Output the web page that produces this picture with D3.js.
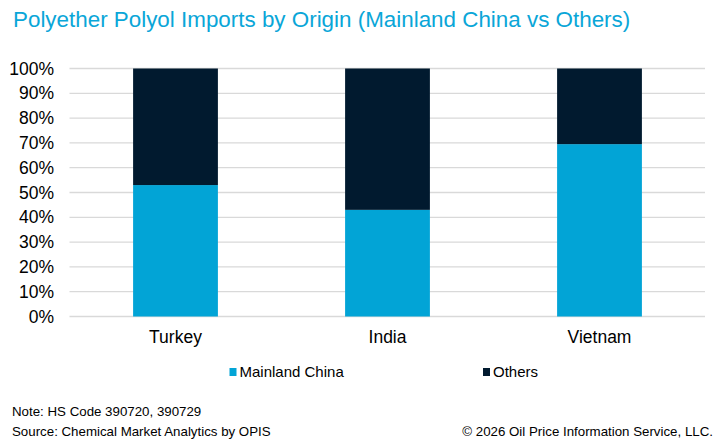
<!DOCTYPE html>
<html>
<head>
<meta charset="utf-8">
<title>Polyether Polyol Imports by Origin</title>
<script src="https://cdn.jsdelivr.net/npm/d3@7"></script>
<style>
  body { margin: 0; background: #fff; }
  svg text { font-family: "Liberation Sans", Arial, sans-serif; }
</style>
</head>
<body>
<div id="chart"></div>
<script>
var countries = ['Turkey', 'India', 'Vietnam'];
var mainlandChina = [53, 43, 69.5];
var others = [47, 57, 30.5];
var seriesNames = ['Mainland China', 'Others'];
var seriesColors = ['#02a4d6', '#011a2f'];
var yTicks = [0, 10, 20, 30, 40, 50, 60, 70, 80, 90, 100];

var W = 722, H = 448;
var svg = d3.select('#chart').append('svg')
  .attr('width', W).attr('height', H);

svg.append('text')
  .attr('x', 13).attr('y', 27)
  .attr('font-size', 22.4)
  .attr('fill', '#0aa6d8')
  .text('Polyether Polyol Imports by Origin (Mainland China vs Others)');

var x = d3.scaleBand().domain(countries).range([69.5, 705.5])
  .paddingInner(0.6).paddingOuter(0.3);
var y = d3.scaleLinear().domain([0, 100]).range([316.5, 68.5]);

// gridlines
svg.append('g').selectAll('line')
  .data(yTicks)
  .enter().append('line')
  .attr('x1', 69.5).attr('x2', 705)
  .attr('y1', function(d){ return y(d); })
  .attr('y2', function(d){ return y(d); })
  .attr('stroke', '#d9d9d9').attr('stroke-width', 1.3);

// y axis labels
var yAxis = d3.axisLeft(y).tickValues(yTicks)
  .tickFormat(function(d){ return d + '%'; })
  .tickSize(0).tickPadding(0);
var ya = svg.append('g').attr('transform', 'translate(54,0)').call(yAxis);
ya.select('.domain').remove();
ya.selectAll('text').attr('font-size', 17.5).attr('fill', '#000')
  .attr('font-family', '"Liberation Sans", Arial, sans-serif');

// stacked bars
var rows = countries.map(function(c, i){
  return { country: c, 'Mainland China': mainlandChina[i], 'Others': others[i] };
});
var stack = d3.stack().keys(seriesNames)(rows);

svg.append('g').selectAll('g')
  .data(stack)
  .enter().append('g')
  .attr('fill', function(d, i){ return seriesColors[i]; })
  .selectAll('rect')
  .data(function(d){ return d; })
  .enter().append('rect')
  .attr('x', function(d){ return x(d.data.country); })
  .attr('width', x.bandwidth())
  .attr('y', function(d){ return y(d[1]); })
  .attr('height', function(d){ return y(d[0]) - y(d[1]); });

// x axis labels
var xAxis = d3.axisBottom(x).tickSize(0).tickPadding(0);
var xa = svg.append('g').attr('transform', 'translate(0,331)').call(xAxis);
xa.select('.domain').remove();
xa.selectAll('text').attr('font-size', 17.5).attr('fill', '#000')
  .attr('font-family', '"Liberation Sans", Arial, sans-serif');

// legend
var legendX = [229.5, 483];
var legend = svg.append('g').selectAll('g')
  .data(seriesNames)
  .enter().append('g')
  .attr('transform', function(d, i){ return 'translate(' + legendX[i] + ',0)'; });
legend.append('rect')
  .attr('x', 0).attr('y', 368).attr('width', 7).attr('height', 8)
  .attr('fill', function(d, i){ return seriesColors[i]; });
legend.append('text')
  .attr('x', 10).attr('y', 377)
  .attr('font-size', 15).attr('fill', '#000')
  .text(function(d){ return d; });

// footer
svg.append('text').attr('x', 12).attr('y', 416)
  .attr('font-size', 13.3).attr('fill', '#000')
  .text('Note: HS Code 390720, 390729');
svg.append('text').attr('x', 12).attr('y', 436)
  .attr('font-size', 13.3).attr('fill', '#000')
  .text('Source: Chemical Market Analytics by OPIS');
svg.append('text').attr('x', 713).attr('y', 436)
  .attr('font-size', 13.3).attr('fill', '#000')
  .attr('text-anchor', 'end')
  .text('\u00a9 2026 Oil Price Information Service, LLC.');
</script>
</body>
</html>
